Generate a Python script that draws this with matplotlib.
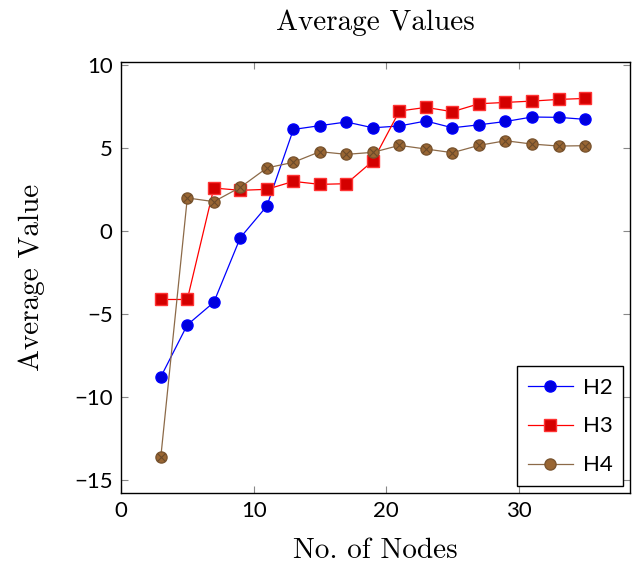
import matplotlib
matplotlib.use("Agg")
from matplotlib import pyplot as plt
import numpy as np

plt.rcParams['axes.unicode_minus'] = True

# number of nodes
nodes = [3, 5, 7, 9, 11, 13, 15, 17, 19, 21, 23, 25, 27, 29, 31, 33, 35]

# average values per heuristic
h2 = [-8.8, -5.66, -4.3, -0.4, 1.5, 6.12, 6.35, 6.57, 6.22, 6.33, 6.63, 6.22, 6.4, 6.6, 6.87, 6.85, 6.73]
h3 = [-4.13, -4.13, 2.59, 2.45, 2.51, 2.99, 2.81, 2.85, 4.22, 7.23, 7.45, 7.19, 7.67, 7.75, 7.83, 7.93, 7.99]
h4 = [-13.63, 1.99, 1.77, 2.63, 3.8, 4.14, 4.78, 4.62, 4.74, 5.16, 4.94, 4.72, 5.16, 5.44, 5.24, 5.12, 5.14]

xticks = [0, 10, 20, 30]
yticks = [-15, -10, -5, 0, 5, 10]

serif = ['cmr10', 'DejaVu Serif']
sans = ['Lato', 'DejaVu Sans']

fig = plt.figure(figsize=(6.32, 5.72), dpi=100)
ax = fig.add_axes([0.1915, 0.138, 0.8055, 0.754])

ax.plot(nodes, h2, '-o', color='#0000ff', lw=0.9, markersize=8,
        markerfacecolor='#0000dd', markeredgecolor='#0000ff', label='H2')
ax.plot(nodes, h3, '-s', color='#ff0000', lw=0.9, markersize=8,
        markerfacecolor='#d40000', markeredgecolor='#ff3333', label='H3')
ax.plot(nodes, h4, '-o', color='#8c6a48', lw=0.9, markersize=8,
        markerfacecolor='#996633', markeredgecolor='#7a5530', label='H4')
# cross inside the brown markers (otimes look)
ax.plot(nodes, h4, 'x', color='#6b4a2a', markersize=5.5, mew=0.8)

ax.set_xlim(0, 38.4)
ax.set_ylim(-15.8, 10.2)
ax.set_xticks(xticks)
ax.set_yticks(yticks)
ax.tick_params(direction='in', top=True, right=True, length=5, width=0.8,
               color='#888888', labelsize=16, pad=6)
for lab in ax.get_xticklabels() + ax.get_yticklabels():
    lab.set_family(sans)
for s in ax.spines.values():
    s.set_linewidth(1.0)

ax.set_title('Average Values', family=serif, fontsize=21, pad=23)
ax.set_xlabel('No. of Nodes', family=serif, fontsize=21, labelpad=12)
ax.set_ylabel('Average Value', family=serif, fontsize=21, labelpad=21)

# legend: only first three handles
handles, labels = ax.get_legend_handles_labels()
leg = ax.legend(handles[:3], labels[:3], loc='lower right', fancybox=False,
                edgecolor='black', prop={'family': sans, 'size': 16},
                handlelength=2.0, borderpad=0.5, labelspacing=0.85,
                borderaxespad=0.3, framealpha=1, handletextpad=0.45)
leg.get_frame().set_linewidth(1.0)

fig.savefig('out.png', dpi=100)
